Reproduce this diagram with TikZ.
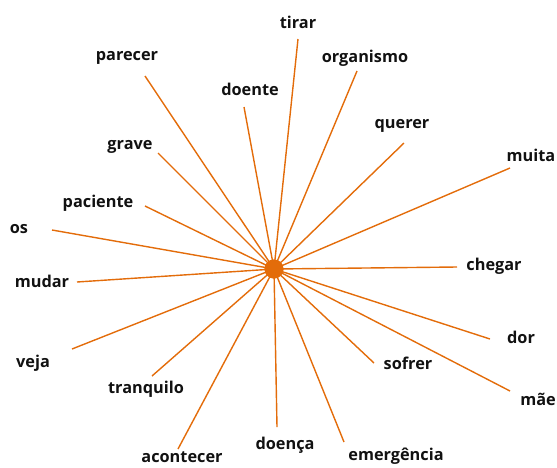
\documentclass[tikz,border=0pt]{standalone}
\usepackage{fontspec}
\setsansfont{Open Sans}
\definecolor{spoke}{HTML}{E36C0A}
\definecolor{ink}{HTML}{111111}

\begin{document}
\begin{tikzpicture}[x=1pt,y=-1pt,font=\sffamily\bfseries\fontsize{16.3}{19}\selectfont,
  word/.style={text=ink,inner sep=0pt,anchor=center},
  ray/.style={spoke,line width=1.4pt},
  hub/.style={circle,fill=spoke,minimum size=19pt,inner sep=0pt}]
  \useasboundingbox (0,0) rectangle (557,467);

  % centre of the star
  \node[hub] (core) at (274,269) {};

  % word / label position / end of its ray
  \foreach \key/\txt/\lx/\ly/\ex/\ey in {
      tirar/tirar/298/22/298/39,
      organismo/organismo/365/58/357/71,
      querer/querer/402/126/404/143,
      muita/muita/531/155/510/168,
      chegar/chegar/494/266/457/267,
      dor/dor/521/337/490/339,
      mae/mãe/538/399/510/391,
      sofrer/sofrer/408/363/374/363,
      emergencia/emergência/396/456/344/442,
      doenca/doença/285/445/277/427,
      acontecer/acontecer/182/457/178/449,
      tranquilo/tranquilo/146/389/152/376,
      veja/veja/33/363/72/349,
      mudar/mudar/42/281/77/282,
      os/os/19/229/52/230,
      paciente/paciente/98/203/145/206,
      grave/grave/130/147/158/153,
      parecer/parecer/127/58/145/76,
      doente/doente/250/89/244/107}{
    \node[word] (w-\key) at (\lx,\ly) {\txt};
    \coordinate (e-\key) at (\ex,\ey);
    \draw[ray] (core.center) -- (e-\key);
  }
  \node[hub] at (core) {};
\end{tikzpicture}
\end{document}
